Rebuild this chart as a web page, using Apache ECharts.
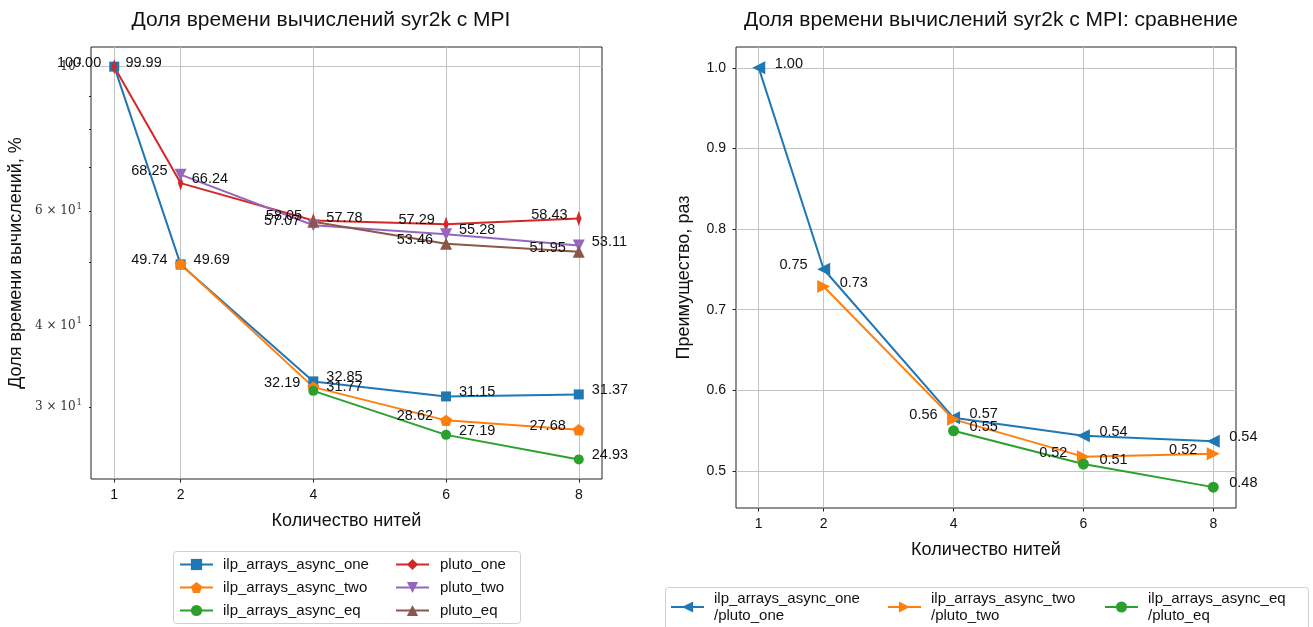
<!DOCTYPE html>
<html>
<head>
<meta charset="utf-8">
<script src="https://cdn.jsdelivr.net/npm/echarts@6/dist/echarts.min.js"></script>
<style>
  html, body { margin: 0; padding: 0; background: #fff; }
  #chart { width: 1313px; height: 627px; }
</style>
</head>
<body>
<div id="chart"></div>
<script>
// Number of threads
const threads = [1, 2, 4, 6, 8];

// Share of compute time, %
const ilpOne   = [100.00, 49.69, 32.85, 31.15, 31.37];
const ilpTwo   = [null,   49.74, 32.19, 28.62, 27.68];
const ilpEq    = [null,   null,  31.77, 27.19, 24.93];
const plutoOne = [99.99,  66.24, 58.05, 57.29, 58.43];
const plutoTwo = [null,   68.25, 57.07, 55.28, 53.11];
const plutoEq  = [null,   null,  57.78, 53.46, 51.95];

// ilp / pluto ratio
const ratioOne = [1.0001, 0.7502, 0.5659, 0.5437, 0.5369];
const ratioTwo = [null,   0.7288, 0.5640, 0.5177, 0.5212];
const ratioEq  = [null,   null,   0.5498, 0.5086, 0.4799];

// Tick values
const shareLabelTicks = [30, 40, 60, 100];
const shareMajorTicks = [100];
const shareMinorTicks = [30, 40, 50, 60, 70, 80, 90];
const ratioTicks = [0.5, 0.6, 0.7, 0.8, 0.9, 1.0];

const FONT = 'Liberation Sans';
const GRID_COLOR = '#c4c4c4';

// At each thread count, labels alternate right/left going up through the values
function labelSides(group) {
  return group.map(vals => vals.map((v, i) => {
    if (v == null) return null;
    const column = group.map(g => g[i]).filter(x => x != null).sort((a, b) => a - b);
    return column.indexOf(v) % 2 === 0 ? 'right' : 'left';
  }));
}

function makeSeries(name, vals, side, color, symbol, size, axis, extra) {
  const half = Array.isArray(size) ? size[0] / 2 : size / 2;
  const dist = (axis === 0 ? 13 : 16) - half;
  return Object.assign({
    type: 'line',
    name: name,
    xAxisIndex: axis,
    yAxisIndex: axis === 0 ? 0 : 2,
    data: threads.map((t, i) => vals[i] == null ? null : {
      value: [t, vals[i]],
      label: { position: side[i] }
    }).filter(Boolean),
    symbol: symbol,
    symbolSize: size,
    symbolKeepAspect: true,
    showAllSymbol: true,
    lineStyle: { width: 2, color: color },
    itemStyle: { color: color },
    label: {
      show: true,
      formatter: p => p.value[1].toFixed(2),
      distance: dist,
      fontFamily: FONT,
      fontSize: 14.5,
      color: '#111'
    },
    // value labels sit slightly above the marker centre
    labelLayout: { hideOverlap: false, dy: -4 },
    emphasis: { disabled: true },
    animation: false
  }, extra || {});
}

const PENTAGON = 'path://M0,-1 L0.951,-0.309 L0.588,0.809 L-0.588,0.809 L-0.951,-0.309 Z';
const THIN_DIAMOND = 'path://M0,-1 L0.6,0 L0,1 L-0.6,0 Z';

const shareSides = labelSides([ilpOne, ilpTwo, ilpEq, plutoOne, plutoTwo, plutoEq]);
const ratioSides = labelSides([ratioOne, ratioTwo, ratioEq]);

function sup(v) {
  // 6e1 -> "6 × 10^1", 1e2 -> "10^2"
  const e = Math.floor(Math.log10(v) + 1e-9);
  const m = Math.round(v / Math.pow(10, e));
  return (m === 1 ? '{b|10}' : '{b|' + m + ' × 10}') + '{s|' + e + '}';
}

function logLabel(v) {
  let raw = v;
  if (v < 5) raw = Math.pow(10, v);
  return sup(Math.round(raw));
}

const chart = echarts.init(document.getElementById('chart'), null, { renderer: 'canvas' });

const axisTextStyle = { fontFamily: FONT, fontSize: 14, color: '#111' };
const nameTextStyle = { fontFamily: FONT, fontSize: 18, color: '#111' };
const legendText = { fontFamily: FONT, fontSize: 15, color: '#111', padding: [0, 0, 0, 5] };
const legendText2 = { fontFamily: FONT, fontSize: 15, color: '#111', lineHeight: 17, padding: [0, 0, 0, 5] };

chart.setOption({
  animation: false,
  backgroundColor: '#fff',
  title: [
    { text: 'Доля времени вычислений syr2k с MPI', left: 316, top: 5, textAlign: 'center',
      textStyle: { fontFamily: FONT, fontSize: 21, fontWeight: 'normal', color: '#111' } },
    { text: 'Доля времени вычислений syr2k с MPI: сравнение', left: 986, top: 5, textAlign: 'center',
      textStyle: { fontFamily: FONT, fontSize: 21, fontWeight: 'normal', color: '#111' } }
  ],
  grid: [
    { left: 91, top: 47, width: 511, height: 432, show: true, borderColor: '#222', borderWidth: 1,
      backgroundColor: 'transparent', outerBoundsMode: 'none', containLabel: false },
    { left: 736, top: 47, width: 500, height: 461, show: true, borderColor: '#222', borderWidth: 1,
      backgroundColor: 'transparent', outerBoundsMode: 'none', containLabel: false }
  ],
  xAxis: [0, 1].map(g => ({
    gridIndex: g,
    type: 'value',
    min: 0.65,
    max: 8.35,
    axisLine: { show: false },
    axisTick: { customValues: threads, length: 3.5, lineStyle: { color: '#222' } },
    axisLabel: Object.assign({ customValues: threads, margin: 9 }, axisTextStyle),
    splitLine: { show: true, lineStyle: { color: GRID_COLOR, width: 1 } },
    name: 'Количество нитей',
    nameLocation: 'middle',
    nameGap: 33,
    nameTextStyle: nameTextStyle
  })),
  yAxis: [
    {
      gridIndex: 0, type: 'log', logBase: 10, min: 23.26, max: 107.2, position: 'left',
      axisLine: { show: false },
      axisTick: { customValues: shareMajorTicks, length: 3.5, lineStyle: { color: '#222' } },
      axisLabel: {
        customValues: shareLabelTicks, margin: 9,
        formatter: logLabel,
        rich: {
          b: { fontFamily: 'DejaVu Serif', fontSize: 12, color: '#333' },
          s: { fontFamily: 'DejaVu Serif', fontSize: 8.5, color: '#333', padding: [0, 0, 9, 1] }
        }
      },
      splitLine: { show: true, lineStyle: { color: GRID_COLOR, width: 1 } },
      name: 'Доля времени вычислений, %',
      nameLocation: 'middle',
      nameGap: 66,
      nameTextStyle: nameTextStyle
    },
    {
      gridIndex: 0, type: 'log', logBase: 10, min: 23.26, max: 107.2, position: 'left', offset: 0,
      axisLine: { show: false },
      axisTick: { customValues: shareMinorTicks, length: 2, lineStyle: { color: '#222' } },
      axisLabel: { show: false },
      splitLine: { show: false }
    },
    {
      gridIndex: 1, type: 'value', min: 0.454, max: 1.026, position: 'left',
      axisLine: { show: false },
      axisTick: { customValues: ratioTicks, length: 3.5, lineStyle: { color: '#222' } },
      axisLabel: Object.assign({ customValues: ratioTicks, margin: 10, formatter: v => v.toFixed(1) }, axisTextStyle),
      splitLine: { show: true, lineStyle: { color: GRID_COLOR, width: 1 } },
      name: 'Преимущество, раз',
      nameLocation: 'middle',
      nameGap: 43,
      nameTextStyle: nameTextStyle
    }
  ],
  graphic: [
    { type: 'rect', z: 0, shape: { x: 173.5, y: 551.5, width: 347, height: 72, r: 3 },
      style: { fill: '#fff', stroke: '#cfcfcf', lineWidth: 1 } },
    { type: 'rect', z: 0, shape: { x: 665.5, y: 587.5, width: 643, height: 60, r: 3 },
      style: { fill: '#fff', stroke: '#cfcfcf', lineWidth: 1 } }
  ],
  legend: [
    { data: ['ilp_arrays_async_one', 'ilp_arrays_async_two', 'ilp_arrays_async_eq'],
      left: 179, top: 557, padding: 0, orient: 'vertical', itemGap: 8, itemWidth: 33, itemHeight: 14,
      textStyle: legendText },
    { data: ['pluto_one', 'pluto_two', 'pluto_eq'],
      left: 395, top: 557, padding: 0, orient: 'vertical', itemGap: 8, itemWidth: 33, itemHeight: 14,
      textStyle: Object.assign({}, legendText, { padding: [0, 0, 0, 6] }) },
    { data: ['ilp_arrays_async_one\n/pluto_one'], left: 670, top: 590, padding: 0, itemWidth: 33, itemHeight: 14,
      textStyle: legendText2 },
    { data: ['ilp_arrays_async_two\n/pluto_two'], left: 887, top: 590, padding: 0, itemWidth: 33, itemHeight: 14,
      textStyle: legendText2 },
    { data: ['ilp_arrays_async_eq\n/pluto_eq'], left: 1104, top: 590, padding: 0, itemWidth: 33, itemHeight: 14,
      textStyle: legendText2 }
  ],
  series: [
    makeSeries('ilp_arrays_async_one', ilpOne, shareSides[0], '#1f77b4', 'rect', 10, 0),
    makeSeries('ilp_arrays_async_two', ilpTwo, shareSides[1], '#ff7f0e', PENTAGON, 12, 0),
    makeSeries('ilp_arrays_async_eq', ilpEq, shareSides[2], '#2ca02c', 'circle', 10, 0),
    makeSeries('pluto_one', plutoOne, shareSides[3], '#d62728', THIN_DIAMOND, [9, 15], 0),
    makeSeries('pluto_two', plutoTwo, shareSides[4], '#9467bd', 'triangle', 12, 0, { symbolRotate: 180 }),
    makeSeries('pluto_eq', plutoEq, shareSides[5], '#8c564b', 'triangle', 12, 0),
    makeSeries('ilp_arrays_async_one\n/pluto_one', ratioOne, ratioSides[0], '#1f77b4', 'triangle', 13, 1, { symbolRotate: 90 }),
    makeSeries('ilp_arrays_async_two\n/pluto_two', ratioTwo, ratioSides[1], '#ff7f0e', 'triangle', 13, 1, { symbolRotate: -90 }),
    makeSeries('ilp_arrays_async_eq\n/pluto_eq', ratioEq, ratioSides[2], '#2ca02c', 'circle', 11, 1)
  ]
});
</script>
</body>
</html>
